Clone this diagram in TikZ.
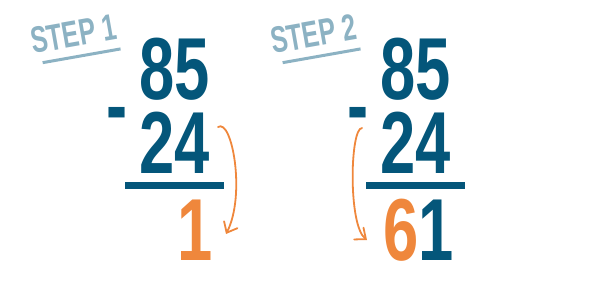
\documentclass[tikz,border=0pt]{standalone}
\usepackage{fontspec}
\usepackage{xcolor}
\usetikzlibrary{arrows.meta, positioning, calc}
\newfontfamily\digitfont[FakeStretch=0.72]{Liberation Sans}
\newfontfamily\stepfont[FakeStretch=0.68]{Liberation Sans}
\definecolor{ink}{HTML}{04567A}
\definecolor{warm}{HTML}{EF873C}
\definecolor{soft}{HTML}{8CB2C3}
\tikzset{
  >={Straight Barb[length=9pt, width=15pt, line cap=round]},
  %
  digits/.style={
    font=\digitfont\bfseries\fontsize{88}{88}\selectfont,
    text=ink, inner sep=0pt, anchor=base east,
  },
  minus/.style={digits, anchor=base west},
  rulebar/.style={draw=ink, line width=7pt},
  %
  steplbl/.style={font=\stepfont\bfseries\fontsize{37}{37}\selectfont,
                  text=soft, inner sep=0pt, text depth=10pt,
                  anchor=base west, rotate=10},
  stepline/.style={draw=soft, line width=3pt, shorten <=8pt},
  %
  carry/.style={draw=warm, line width=1.8pt, line cap=round, ->},
}

\begin{document}
\begin{tikzpicture}[x=1pt, y=-1pt]
\useasboundingbox (0,0) rectangle (591,300);

% ---------------------------------------------------------------- step 1
\begin{scope}[xshift=0pt]
  \node[steplbl] (step1) at (33,54) {STEP 1};
  \draw[stepline] (step1.south west) -- (step1.south east);

  \node[digits] (top1) at (210,99) {85};
  \node[digits] (sub1) at (210,173) {24};
  \node[minus] (minus1) at (106.5,135) {-};
  \draw[rulebar] (125,185.5) -- (224,185.5);
  \node[digits, text=warm] (res1) at (213,260) {1};

  \coordinate (from1) at (218,127);
  \coordinate (to1) at (226,234);
  \draw[carry] (from1) .. controls (232,118) and (246,195) .. (to1);
\end{scope}

% ---------------------------------------------------------------- step 2
\begin{scope}[xshift=241pt]
  \node[steplbl] (step2) at (32,54) {STEP 2};
  \draw[stepline] (step2.south west) -- (step2.south east);

  \node[digits] (top2) at (210,99) {85};
  \node[digits] (sub2) at (210,173) {24};
  \node[minus] (minus2) at (106.5,135) {-};
  \draw[rulebar] (125,185.5) -- (224,185.5);
  \node[digits] (res2) at (213,260) {{\color{warm}6}1};

  \coordinate (from2) at (121,128);
  \coordinate (to2) at (126,240);
  \draw[carry] (from2) .. controls (109,128) and (107,225) .. (to2);
\end{scope}

\end{tikzpicture}
\end{document}
